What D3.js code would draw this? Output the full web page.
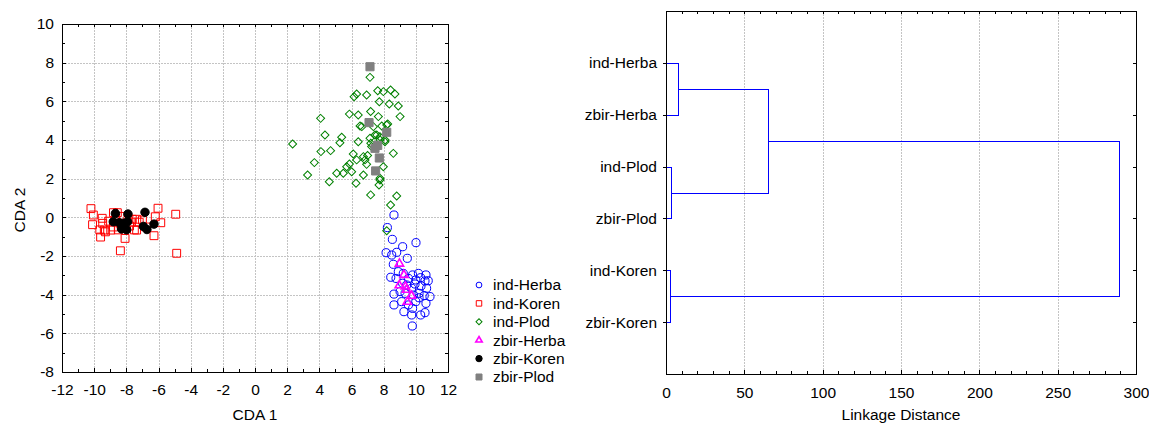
<!DOCTYPE html>
<html>
<head>
<meta charset="utf-8">
<script src="https://cdn.jsdelivr.net/npm/d3@7"></script>
<style>
body { margin: 0; background: #fff; }
text { font-family: "Liberation Sans", Arial, sans-serif; font-size: 15.5px; fill: #000; }
.grid { stroke: #c4c4c4; stroke-dasharray: 2,1; shape-rendering: crispEdges; }
.axis line { stroke: #000; shape-rendering: crispEdges; }
.axis text { font-size: 15.5px; }
</style>
</head>
<body>
<div id="chart"></div>
<script>
// ---- data ----
const indHerba = [
  [8.64,0.12],[8.23,-0.53],[8.54,-1.14],[9.18,-1.52],[10.01,-1.31],[8.15,-1.83],[8.5,-1.95],
  [8.81,-1.81],[9.47,-2.12],[8.6,-2.43],[8.91,-2.81],[8.44,-3.1],[8.77,-3.16],[9.22,-2.9],
  [9.54,-3.16],[9.8,-2.98],[10.16,-2.9],[10.3,-3.12],[10.63,-2.98],[10.57,-3.29],[10.77,-3.28],
  [9.95,-3.45],[10.32,-3.55],[9.74,-3.67],[10.67,-3.67],[8.64,-3.97],[9.02,-3.84],[9.33,-3.93],
  [9.85,-4.02],[10.2,-3.93],[10.52,-4.05],[10.88,-4.1],[10.2,-4.16],[10.0,-4.36],[10.63,-4.45],
  [8.64,-4.53],[9.12,-4.36],[9.54,-4.53],[9.8,-4.71],[9.26,-4.88],[9.74,-5.05],[10.3,-5.05],
  [10.57,-4.93],[9.78,-5.62],[9.43,-3.5],[10.0,-3.24],[9.18,-3.41]
];
const indKoren = [
  [-10.2,0.45],[-10.05,0.12],[-10.1,-0.38],[-9.6,-1.02],[-9.65,-0.65],[-9.5,-0.05],[-9.47,-0.31],
  [-9.37,-0.66],[-9.3,-0.75],[-8.97,-0.66],[-8.8,0.24],[-8.56,0.24],[-8.8,-0.5],[-8.7,-0.15],
  [-8.5,-0.65],[-8.37,-1.73],[-8.4,-0.3],[-8.08,-1.09],[-7.9,0.0],[-7.7,-0.25],[-7.63,-0.1],
  [-7.5,-0.65],[-7.36,-0.66],[-7.35,-0.1],[-7.2,-0.25],[-7.0,-0.14],[-6.75,-0.5],[-6.28,-0.95],
  [-6.2,0.03],[-6.03,0.47],[-5.86,-0.28],[-4.93,0.16],[-4.87,-1.86],[-9.1,-0.2],[-8.2,0.05],[-7.8,-0.45]
];
const indPlod = [
  [7.15,7.24],[6.16,6.24],[6.32,6.38],[6.94,6.33],[7.63,6.55],[7.98,6.5],[8.43,6.59],[8.7,6.38],
  [7.73,5.98],[8.35,5.86],[8.91,5.76],[7.19,5.47],[5.87,5.34],[6.42,5.29],[7.67,5.21],[9.02,5.21],
  [4.08,5.12],[6.53,4.72],[6.64,4.69],[8.19,4.78],[7.88,4.72],[4.35,4.26],[5.39,4.14],[5.28,3.86],
  [6.42,3.91],[7.15,4.09],[7.46,4.26],[7.77,4.17],[8.08,3.91],[2.34,3.79],[4.1,3.4],[4.7,3.45],
  [7.25,3.66],[8.6,3.31],[6.11,3.28],[6.74,3.14],[3.69,2.83],[5.87,2.76],[5.7,2.62],[6.32,2.97],
  [6.84,2.97],[6.94,2.74],[7.98,2.62],[3.27,2.19],[5.08,2.28],[5.49,2.28],[6.01,2.36],[6.74,2.19],
  [4.62,1.84],[7.77,2.02],[7.77,1.93],[6.28,1.76],[7.71,1.67],[7.19,1.16],[8.81,1.1],[8.43,0.64],
  [8.19,-0.69],[7.2,3.83],[7.36,4.69],[8.25,4.83],[7.57,4.26],[7.78,4.0],[8.09,4.0],[7.0,3.2]
];
const zbirHerba = [[8.98,-2.4],[9.26,-2.98],[8.97,-3.52],[9.35,-3.58],[9.42,-3.75],[9.73,-4.06],[9.47,-4.37]];
const zbirKoren = [
  [-8.68,0.2],[-8.81,-0.23],[-8.44,-0.28],[-8.3,-0.6],[-7.9,0.17],[-7.92,-0.23],[-8.19,-0.57],
  [-7.98,-0.64],[-8.15,-0.3],[-6.84,0.26],[-6.94,-0.47],[-6.72,-0.63],[-6.28,-0.35]
];
const zbirPlod = [[7.15,7.79],[7.09,4.9],[8.19,4.4],[7.63,3.72],[7.46,3.57],[7.73,3.07],[7.5,2.4]];

const seriesNames = ["ind-Herba", "ind-Koren", "ind-Plod", "zbir-Herba", "zbir-Koren", "zbir-Plod"];
const seriesData = [indHerba, indKoren, indPlod, zbirHerba, zbirKoren, zbirPlod];

const xTicks = [-12, -10, -8, -6, -4, -2, 0, 2, 4, 6, 8, 10, 12];
const yTicks = [-8, -6, -4, -2, 0, 2, 4, 6, 8, 10];

// dendrogram: leaves top to bottom, merges as [nodeA, nodeB, linkage distance]
const leafLabels = ["ind-Herba", "zbir-Herba", "ind-Plod", "zbir-Plod", "ind-Koren", "zbir-Koren"];
const merges = [[0, 1, 7.7], [2, 3, 3.2], [4, 5, 2.8], [6, 7, 65], [9, 8, 289]];
const distTicks = [0, 50, 100, 150, 200, 250, 300];

// ---- styles per series ----
const styles = {
  "ind-Herba":  {shape: "circle",   stroke: "#0000ff", fill: "none",    size: 52, lsize: 26},
  "ind-Koren":  {shape: "square",   stroke: "#ff0000", fill: "none",    size: 62, lsize: 30},
  "ind-Plod":   {shape: "diamond",  stroke: "#008000", fill: "none",    size: 32, lsize: 18},
  "zbir-Herba": {shape: "triangle", stroke: "#ff00ff", fill: "none",    size: 30, lsize: 18, sw: 1.6},
  "zbir-Koren": {shape: "circle",   stroke: "#000000", fill: "#000000", size: 56, lsize: 32},
  "zbir-Plod":  {shape: "square",   stroke: "#808080", fill: "#808080", size: 66, lsize: 36}
};
const symType = {circle: d3.symbolCircle, square: d3.symbolSquare, diamond: d3.symbolSquare, triangle: d3.symbolTriangle};

function drawSymbol(sel, name, big) {
  const st = styles[name];
  sel.append("path")
    .attr("d", d3.symbol(symType[st.shape], big ? st.size : st.lsize)())
    .attr("fill", st.fill)
    .attr("stroke", st.stroke)
    .attr("stroke-width", st.sw || 1);
  if (st.shape === "diamond") sel.select("path").attr("transform", "rotate(45)");
}

const svg = d3.select("#chart").append("svg")
    .attr("width", 1149)
    .attr("height", 425);

const crisp = v => Math.round(v) + 0.5;
const plain = d => String(d);   // hyphen minus like the original, not U+2212

//-----------------------------------------------------------
// scatter plot
const sc = {left: 62, right: 448, top: 24, bottom: 372};
const x = d3.scaleLinear().domain([-12, 12]).range([sc.left, sc.right]);
const y = d3.scaleLinear().domain([-8, 10]).range([sc.bottom, sc.top]);

const gS = svg.append("g");

gS.selectAll("line.gx")
  .data(xTicks.slice(1, -1))
  .join("line")
    .attr("class", "grid")
    .attr("x1", d => crisp(x(d))).attr("x2", d => crisp(x(d)))
    .attr("y1", sc.top).attr("y2", sc.bottom);

gS.selectAll("line.gy")
  .data(yTicks.slice(1, -1))
  .join("line")
    .attr("class", "grid")
    .attr("y1", d => crisp(y(d))).attr("y2", d => crisp(y(d)))
    .attr("x1", sc.left).attr("x2", sc.right);

const xMinor = d3.range(-12, 13, 1);
const yMinor = d3.range(-8, 11, 1);

gS.append("g").attr("class", "axis")
  .attr("transform", `translate(0,${sc.bottom})`)
  .call(d3.axisBottom(x).tickValues(xTicks).tickFormat(plain).tickSizeInner(-4).tickSizeOuter(0).tickPadding(12))
  .call(g => g.select(".domain").remove());
gS.append("g").attr("class", "axis")
  .attr("transform", `translate(0,${sc.bottom})`)
  .call(d3.axisBottom(x).tickValues(xMinor).tickFormat("").tickSizeInner(-3).tickSizeOuter(0))
  .call(g => g.select(".domain").remove());
gS.append("g").attr("class", "axis")
  .attr("transform", `translate(0,${sc.top})`)
  .call(d3.axisTop(x).tickValues(xMinor).tickFormat("").tickSizeInner(-3).tickSizeOuter(0))
  .call(g => g.select(".domain").remove());
gS.append("g").attr("class", "axis")
  .attr("transform", `translate(${sc.left},0)`)
  .call(d3.axisLeft(y).tickValues(yTicks).tickFormat(plain).tickSizeInner(-4).tickSizeOuter(0).tickPadding(8))
  .call(g => g.select(".domain").remove());
gS.append("g").attr("class", "axis")
  .attr("transform", `translate(${sc.left},0)`)
  .call(d3.axisLeft(y).tickValues(yMinor).tickFormat("").tickSizeInner(-3).tickSizeOuter(0))
  .call(g => g.select(".domain").remove());
gS.append("g").attr("class", "axis")
  .attr("transform", `translate(${sc.right},0)`)
  .call(d3.axisRight(y).tickValues(yMinor).tickFormat("").tickSizeInner(-3).tickSizeOuter(0))
  .call(g => g.select(".domain").remove());

gS.append("rect")
  .attr("x", crisp(sc.left)).attr("y", crisp(sc.top))
  .attr("width", Math.round(sc.right - sc.left)).attr("height", Math.round(sc.bottom - sc.top))
  .attr("fill", "none").attr("stroke", "#000").attr("shape-rendering", "crispEdges");

// points: individuals first, group means on top
seriesNames.forEach((name, i) => {
  gS.selectAll(null)
    .data(seriesData[i])
    .join("g")
      .attr("transform", d => `translate(${x(d[0])},${y(d[1])})`)
      .each(function() { drawSymbol(d3.select(this), name, true); });
});

gS.append("text")
  .attr("x", (sc.left + sc.right) / 2).attr("y", 420)
  .attr("text-anchor", "middle")
  .text("CDA 1");
gS.append("text")
  .attr("transform", "translate(25,210) rotate(-90)")
  .attr("text-anchor", "middle")
  .text("CDA 2");

// legend
const legend = svg.append("g").attr("transform", "translate(479,285)");
seriesNames.forEach((name, i) => {
  const row = legend.append("g").attr("transform", `translate(0,${i * 18.4})`);
  drawSymbol(row, name, false);
  row.append("text").attr("x", 14).attr("dy", "0.35em").text(name);
});

//-----------------------------------------------------------
// dendrogram
const dm = {left: 666, right: 1136, top: 11, bottom: 374};
const dx = d3.scaleLinear().domain([0, 300]).range([dm.left, dm.right]);
const dy = d3.scaleLinear().domain([0, leafLabels.length + 1]).range([dm.top, dm.bottom]);

const gD = svg.append("g");

gD.selectAll("line.grid")
  .data(distTicks.slice(1, -1))
  .join("line")
    .attr("class", "grid")
    .attr("x1", d => crisp(dx(d))).attr("x2", d => crisp(dx(d)))
    .attr("y1", dm.top).attr("y2", dm.bottom);

const dMinor = d3.range(0, 301, 10);
gD.append("g").attr("class", "axis")
  .attr("transform", `translate(0,${dm.bottom})`)
  .call(d3.axisBottom(dx).tickValues(distTicks).tickSizeInner(-4).tickSizeOuter(0).tickPadding(13))
  .call(g => g.select(".domain").remove());
gD.append("g").attr("class", "axis")
  .attr("transform", `translate(0,${dm.bottom})`)
  .call(d3.axisBottom(dx).tickValues(dMinor).tickFormat("").tickSizeInner(-3).tickSizeOuter(0))
  .call(g => g.select(".domain").remove());
gD.append("g").attr("class", "axis")
  .attr("transform", `translate(0,${dm.top})`)
  .call(d3.axisTop(dx).tickValues(dMinor).tickFormat("").tickSizeInner(-3).tickSizeOuter(0))
  .call(g => g.select(".domain").remove());
gD.append("g").attr("class", "axis")
  .attr("transform", `translate(${dm.left},0)`)
  .call(d3.axisLeft(dy).tickValues(d3.range(1, leafLabels.length + 1))
    .tickFormat(i => leafLabels[i - 1]).tickSizeInner(3).tickSizeOuter(0).tickPadding(6))
  .call(g => g.select(".domain").remove());
gD.append("g").attr("class", "axis")
  .attr("transform", `translate(${dm.right},0)`)
  .call(d3.axisRight(dy).tickValues(d3.range(1, leafLabels.length + 1))
    .tickFormat("").tickSizeInner(-3).tickSizeOuter(0))
  .call(g => g.select(".domain").remove());

gD.append("rect")
  .attr("x", crisp(dm.left)).attr("y", crisp(dm.top))
  .attr("width", Math.round(dm.right - dm.left)).attr("height", Math.round(dm.bottom - dm.top))
  .attr("fill", "none").attr("stroke", "#000").attr("shape-rendering", "crispEdges");

// node positions: leaves, then merges
const nodes = leafLabels.map((l, i) => ({pos: i + 1, h: 0}));
merges.forEach(m => {
  nodes.push({pos: (nodes[m[0]].pos + nodes[m[1]].pos) / 2, h: m[2]});
});

gD.selectAll("path.link")
  .data(merges)
  .join("path")
    .attr("class", "link")
    .attr("d", m => {
      const a = nodes[m[0]], b = nodes[m[1]];
      return `M${crisp(dx(a.h))},${crisp(dy(a.pos))}H${crisp(dx(m[2]))}V${crisp(dy(b.pos))}H${crisp(dx(b.h))}`;
    })
    .attr("fill", "none")
    .attr("stroke", "#0000ff")
    .attr("stroke-width", 1)
    .attr("shape-rendering", "crispEdges");

gD.append("text")
  .attr("x", (dm.left + dm.right) / 2).attr("y", 420)
  .attr("text-anchor", "middle")
  .text("Linkage Distance");
</script>
</body>
</html>
